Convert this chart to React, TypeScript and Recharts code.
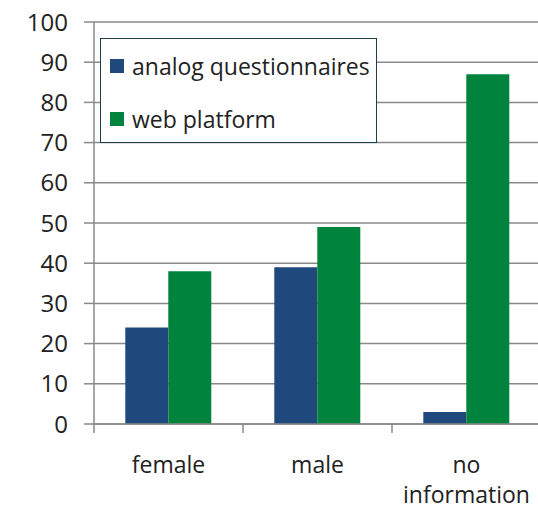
import { BarChart, Bar, XAxis, YAxis, CartesianGrid } from "recharts";

const categories = ["female", "male", "no information"];
const analogValues = [24, 39, 3];
const webValues = [38, 49, 87];
const yTicks = [0, 10, 20, 30, 40, 50, 60, 70, 80, 90, 100];

const seriesNames = {
  analog: "analog questionnaires",
  web: "web platform",
};

const colors = {
  analog: "#1F497D",
  web: "#00843D",
  grid: "#898989",
  text: "#222222",
  legendBorder: "#1D3C48",
};

const data = categories.map((c, i) => ({
  name: c,
  analog: analogValues[i],
  web: webValues[i],
}));

const W = 542;
const H = 509;
const margin = { top: 22, right: 1, bottom: 0, left: 0 };
const yAxisWidth = 94;
const xAxisHeight = 85;
const font = "'Open Sans', sans-serif";

const plotWidth = W - margin.left - margin.right - yAxisWidth;
const band = plotWidth / categories.length;

// category labels wrap on spaces; tick marks sit on the category borders
function XTick(props: any) {
  const { x, y, payload, index } = props;
  const words = String(payload.value).split(" ");
  const left = x - band / 2;
  return (
    <g>
      <line x1={left} y1={y} x2={left} y2={y + 9} stroke={colors.grid} strokeWidth={1.5} />
      {index === categories.length - 1 && (
        <line x1={left + band} y1={y} x2={left + band} y2={y + 9} stroke={colors.grid} strokeWidth={1.5} />
      )}
      {words.map((w, i) => (
        <text
          key={i}
          x={x}
          y={y + 49 + i * 30}
          textAnchor="middle"
          fontFamily={font}
          fontSize={23}
          fill={colors.text}
        >
          {w}
        </text>
      ))}
    </g>
  );
}

function LegendBox() {
  const items = [
    { key: "analog", label: seriesNames.analog, color: colors.analog },
    { key: "web", label: seriesNames.web, color: colors.web },
  ];
  return (
    <div
      style={{
        position: "absolute",
        left: 100,
        top: 38,
        width: 277,
        height: 105,
        boxSizing: "border-box",
        border: `1.5px solid ${colors.legendBorder}`,
        background: "#fff",
        paddingTop: 13,
        paddingLeft: 9,
      }}
    >
      {items.map((it) => (
        <div
          key={it.key}
          style={{
            display: "flex",
            alignItems: "center",
            height: 28,
            marginBottom: 25,
            fontFamily: font,
            fontSize: 23,
            color: colors.text,
            whiteSpace: "nowrap",
          }}
        >
          <span
            style={{
              display: "inline-block",
              width: 14,
              height: 14,
              background: it.color,
              marginRight: 8,
            }}
          />
          {it.label}
        </div>
      ))}
    </div>
  );
}

export default function App() {
  return (
    <div
      style={{
        position: "absolute",
        left: 0,
        top: 0,
        width: 538,
        height: 509,
        overflow: "hidden",
        background: "#fff",
      }}
    >
      <BarChart
        width={W}
        height={H}
        data={data}
        margin={margin}
        barCategoryGap="21%"
        barGap={0}
      >
        <CartesianGrid vertical={false} stroke={colors.grid} strokeWidth={1.5} />
        <XAxis
          dataKey="name"
          height={xAxisHeight}
          tickLine={false}
          tickSize={0}
          tickMargin={0}
          axisLine={{ stroke: colors.grid, strokeWidth: 1.5 }}
          tick={<XTick />}
          interval={0}
        />
        <YAxis
          width={yAxisWidth}
          domain={[0, 100]}
          ticks={yTicks}
          interval={0}
          tickSize={10}
          tickMargin={16}
          tickLine={{ stroke: colors.grid, strokeWidth: 1.5 }}
          axisLine={{ stroke: colors.grid, strokeWidth: 1.5 }}
          tick={{ fontFamily: font, fontSize: 24, fill: colors.text }}
        />
        <Bar dataKey="analog" name={seriesNames.analog} fill={colors.analog} isAnimationActive={false} />
        <Bar dataKey="web" name={seriesNames.web} fill={colors.web} isAnimationActive={false} />
      </BarChart>
      <LegendBox />
    </div>
  );
}
